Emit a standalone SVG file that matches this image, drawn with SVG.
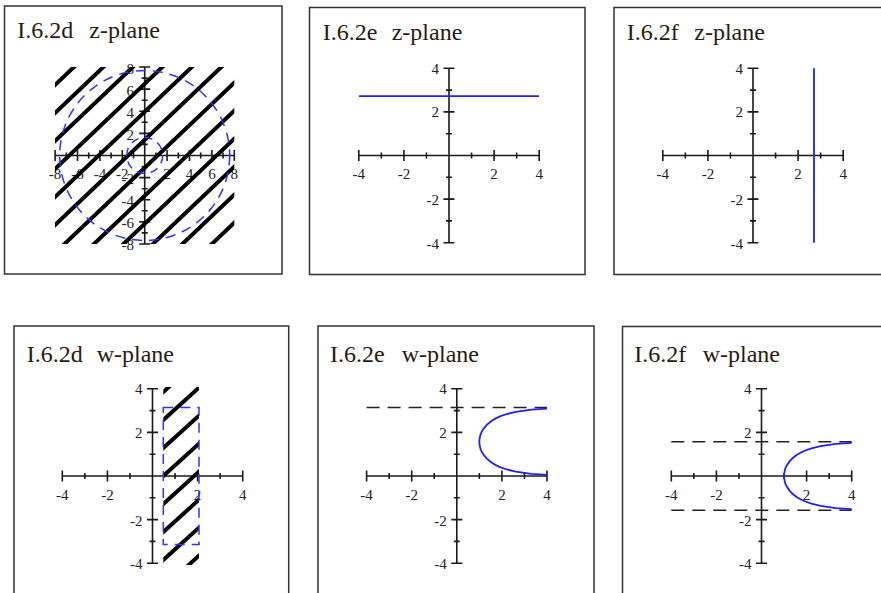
<svg xmlns="http://www.w3.org/2000/svg" xmlns:xlink="http://www.w3.org/1999/xlink" width="881" height="593" viewBox="0 0 881 593">
<style>
.frame{fill:#fff;stroke:#333;stroke-width:1.5}
.title{font-family:"Liberation Serif","Times New Roman",serif;font-size:24px;fill:#2a1a10}
.tl{font-family:"Liberation Serif","Times New Roman",serif;font-size:15px;fill:#222}
.ax{fill:none;stroke:#1a1a1a;stroke-width:1.6}
.hatch{fill:none;stroke:#000;stroke-width:4}
.bdash{fill:none;stroke:#3030ff;stroke-width:1.5;stroke-dasharray:10 7}
.blue{fill:none;stroke:#1f1fff;stroke-width:1.8}
.kdash{fill:none;stroke:#222;stroke-width:1.5;stroke-dasharray:13 8}
</style>
<defs>
<clipPath id="clipZ"><rect x="55" y="67" width="179.3" height="177"/></clipPath>
<clipPath id="clipW"><rect x="163.3" y="387" width="35.7" height="178"/></clipPath>
<g id="ax4">
<path class="ax" d="M-90.2 0H90.2M0 -87.2V87.2M-90.2 -5.5v11M-45.1 -5.5v11M45.1 -5.5v11M90.2 -5.5v11M-67.65 -3v6M-22.55 -3v6M22.55 -3v6M67.65 -3v6M-5.5 -87.2h11M-5.5 -43.6h11M-5.5 43.6h11M-5.5 87.2h11M-3 -65.4h6M-3 -21.8h6M-3 21.8h6M-3 65.4h6"/>
<g class="tl" text-anchor="middle"><text x="-90.2" y="23.5">-4</text><text x="-45.1" y="23.5">-2</text><text x="45.1" y="23.5">2</text><text x="90.2" y="23.5">4</text></g>
<g class="tl" text-anchor="end"><text x="-10" y="-81.8">4</text><text x="-10" y="-38.2">2</text><text x="-10" y="49.8">-2</text><text x="-10" y="93.4">-4</text></g>
</g>
</defs>

<g id="frames">
<rect class="frame" x="4.5" y="6" width="277.5" height="268"/>
<rect class="frame" x="309.5" y="7.5" width="275.5" height="267"/>
<rect class="frame" x="614" y="7.5" width="270" height="267"/>
<rect class="frame" x="14" y="326" width="274.7" height="280"/>
<rect class="frame" x="318" y="326" width="276" height="280"/>
<rect class="frame" x="622.5" y="326.5" width="270" height="280"/>
</g>

<g id="titles" class="title">
<text y="37.5"><tspan x="17.3">I.6.2d</tspan><tspan x="89.3">z-plane</tspan></text>
<text y="40"><tspan x="322.7">I.6.2e</tspan><tspan x="391.7">z-plane</tspan></text>
<text y="40"><tspan x="626.7">I.6.2f</tspan><tspan x="694.3">z-plane</tspan></text>
<text y="361.7"><tspan x="26.7">I.6.2d</tspan><tspan x="96.7">w-plane</tspan></text>
<text y="361.7"><tspan x="330">I.6.2e</tspan><tspan x="401.7">w-plane</tspan></text>
<text y="361.7"><tspan x="634.3">I.6.2f</tspan><tspan x="702.7">w-plane</tspan></text>
</g>

<g id="panel-d-z">
<path class="ax" d="M55.1 155.5H234.3M144.7 67V244M55.1 150v11M77.5 150v11M99.9 150v11M122.3 150v11M167.1 150v11M189.5 150v11M211.9 150v11M234.3 150v11M66.3 152.5v6M88.7 152.5v6M111.1 152.5v6M133.5 152.5v6M155.9 152.5v6M178.3 152.5v6M200.7 152.5v6M223.1 152.5v6M139.2 67h11M139.2 89.1h11M139.2 111.3h11M139.2 133.4h11M139.2 177.6h11M139.2 199.7h11M139.2 221.9h11M139.2 244h11M141.7 78.1h6M141.7 100.2h6M141.7 122.3h6M141.7 144.4h6M141.7 166.6h6M141.7 188.7h6M141.7 210.8h6M141.7 232.9h6"/>
<g class="tl" text-anchor="middle"><text x="55.1" y="178.5">-8</text><text x="77.5" y="178.5">-6</text><text x="99.9" y="178.5">-4</text><text x="122.3" y="178.5">-2</text><text x="167.1" y="178.5">2</text><text x="189.5" y="178.5">4</text><text x="211.9" y="178.5">6</text><text x="234.3" y="178.5">8</text></g>
<g class="tl" text-anchor="end"><text x="134" y="73.5">8</text><text x="134" y="95.6">6</text><text x="134" y="117.8">4</text><text x="134" y="139.9">2</text><text x="134" y="184.1">-2</text><text x="134" y="206.2">-4</text><text x="134" y="228.4">-6</text><text x="134" y="250">-8</text></g>
<path class="hatch" clip-path="url(#clipZ)" d="M50 89.75L240 -90.75M50 117.75L240 -62.75M50 145.75L240 -34.75M50 173.75L240 -6.75M50 201.75L240 21.25M50 229.75L240 49.25M50 257.75L240 77.25M50 285.75L240 105.25M50 313.75L240 133.25M50 341.75L240 161.25M50 369.75L240 189.25M50 397.75L240 217.25"/>
<circle class="bdash" cx="144.7" cy="155.5" r="85"/>
<circle class="bdash" cx="144.7" cy="155.5" r="18" style="stroke-dasharray:8 6"/>
</g>

<g id="panel-e-z">
<use xlink:href="#ax4" x="449" y="155.5"/>
<path class="blue" d="M359 96.2H539"/>
</g>

<g id="panel-f-z">
<use xlink:href="#ax4" x="753" y="155.5"/>
<path class="blue" d="M814 68.3V242.7"/>
</g>

<g id="panel-d-w">
<use xlink:href="#ax4" x="152.5" y="476"/>
<path class="hatch" clip-path="url(#clipW)" d="M158 396.8L204 355.1M158 424.8L204 383.1M158 452.8L204 411.1M158 480.8L204 439.1M158 508.8L204 467.1M158 536.8L204 495.1M158 564.8L204 523.1M158 592.8L204 551.1"/>
<rect class="bdash" x="163.3" y="407.5" width="35.7" height="137"/>
</g>

<g id="panel-e-w">
<use xlink:href="#ax4" x="456.8" y="476"/>
<path class="kdash" d="M366.6 407.5H547"/>
<polyline class="blue" points="547.0,408.6 531.3,409.7 515.8,411.9 506.8,414.0 500.6,416.2 495.9,418.4 492.2,420.6 489.3,422.8 486.8,424.9 484.9,427.1 483.3,429.3 481.9,431.5 480.9,433.7 480.2,435.8 479.7,438.0 479.4,440.2 479.35,441.76 479.4,443.3 479.7,445.5 480.2,447.7 480.9,449.8 481.9,452.0 483.3,454.2 484.9,456.4 486.8,458.6 489.3,460.7 492.2,462.9 495.9,465.1 500.6,467.3 506.8,469.5 515.8,471.6 531.3,473.8 547.0,474.9"/>
</g>

<g id="panel-f-w">
<use xlink:href="#ax4" x="761.5" y="476"/>
<path class="kdash" d="M671.3 441.8H851.7M671.3 510.2H851.7"/>
<polyline class="blue" points="851.7,442.8 836.0,443.9 820.5,446.1 811.5,448.3 805.3,450.5 800.6,452.7 796.9,454.8 794.0,457.0 791.5,459.2 789.6,461.4 788.0,463.6 786.6,465.7 785.6,467.9 784.9,470.1 784.4,472.3 784.1,474.5 784.05,476 784.1,477.5 784.4,479.7 784.9,481.9 785.6,484.1 786.6,486.3 788.0,488.4 789.6,490.6 791.5,492.8 794.0,495.0 796.9,497.2 800.6,499.3 805.3,501.5 811.5,503.7 820.5,505.9 836.0,508.1 851.7,509.2"/>
</g>
</svg>
